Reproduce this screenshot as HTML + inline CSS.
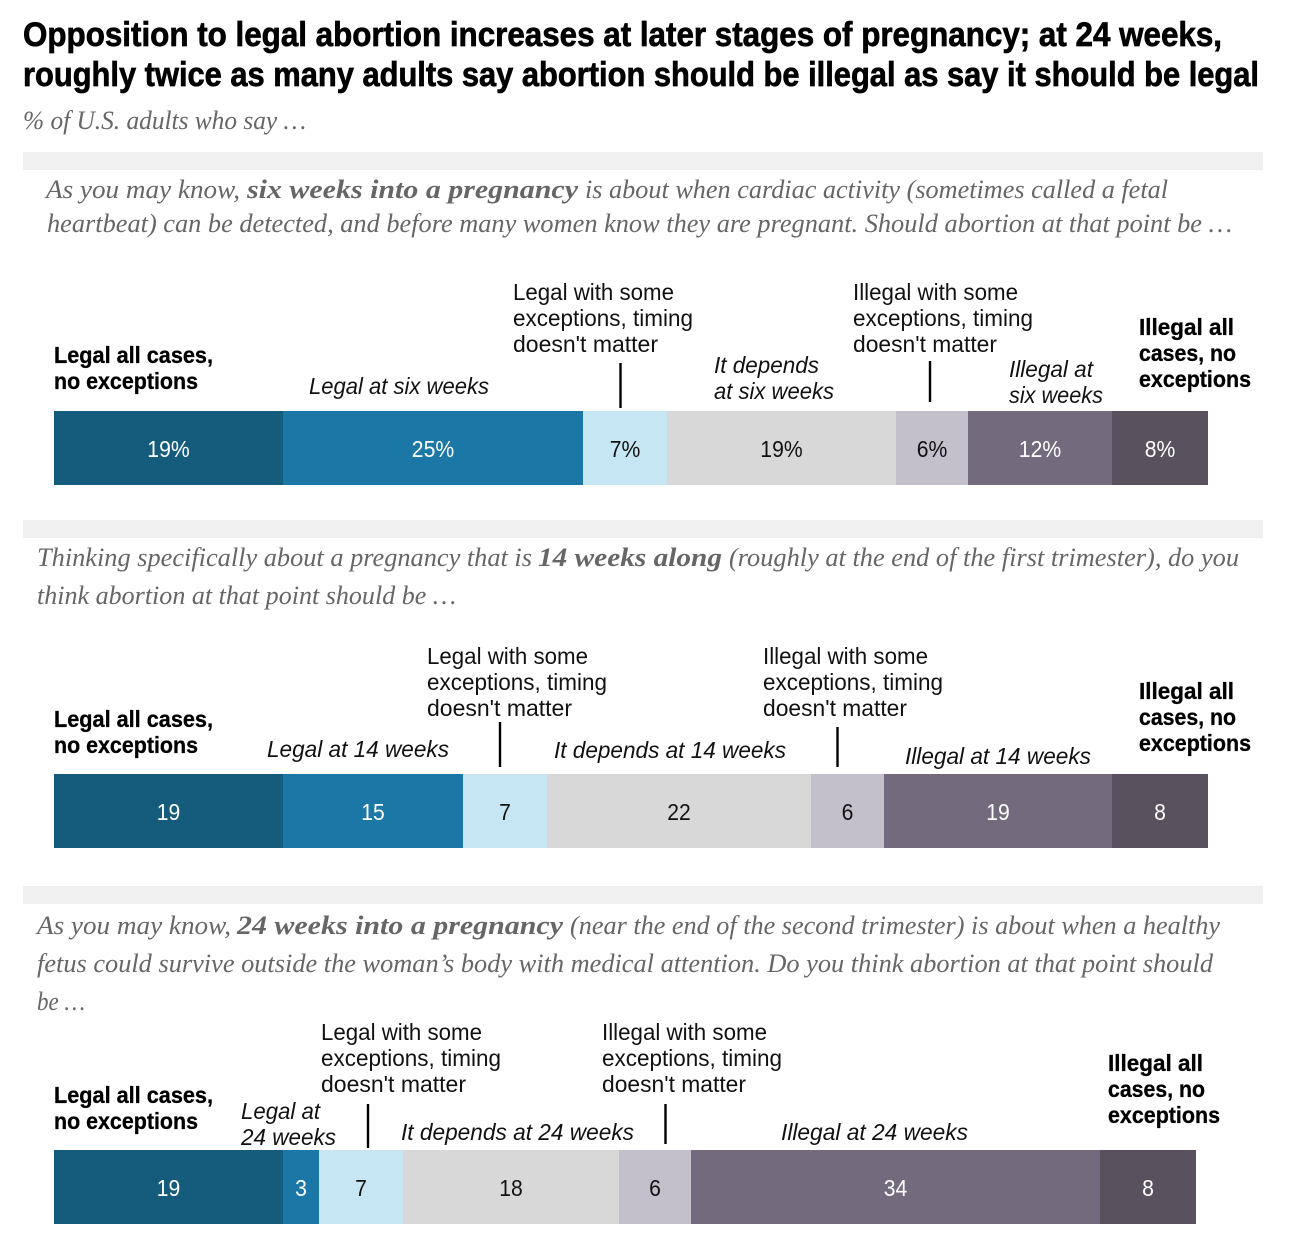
<!DOCTYPE html>
<html lang="en">
<head>
<meta charset="utf-8">
<title>Opposition to legal abortion by stage of pregnancy</title>
<style>
html,body{margin:0;padding:0;background:#fff;width:1303px;height:1235px;overflow:hidden}
svg{display:block}
.title{font:bold 34px "Liberation Sans",sans-serif;fill:#000;stroke:#000;stroke-width:.7px}
.sub{font:italic 26px "Liberation Serif",serif;fill:#666}
.q{font:italic 26px "Liberation Serif",serif;fill:#666}
.qb{font:italic bold 26px "Liberation Serif",serif;fill:#666}
.l{font:23px "Liberation Sans",sans-serif;fill:#111}
.li{font:italic 23px "Liberation Sans",sans-serif;fill:#111}
.lb{font:bold 23px "Liberation Sans",sans-serif;fill:#000;stroke:#000;stroke-width:.3px}
.v{font:23px "Liberation Sans",sans-serif;text-anchor:middle}
</style>
</head>
<body>
<svg id="chart" xmlns="http://www.w3.org/2000/svg" width="1303" height="1235" viewBox="0 0 1303 1235">
<text class="title" x="23" y="46" textLength="1199" lengthAdjust="spacingAndGlyphs">Opposition to legal abortion increases at later stages of pregnancy; at 24 weeks,</text>
<text class="title" x="23" y="86" textLength="1236" lengthAdjust="spacingAndGlyphs">roughly twice as many adults say abortion should be illegal as say it should be legal</text>
<text class="sub" x="23" y="129" textLength="283" lengthAdjust="spacingAndGlyphs">% of U.S. adults who say …</text>

<rect x="23" y="152" width="1240" height="18" fill="#f0f0f0"/>
<rect x="23" y="520" width="1240" height="18" fill="#f0f0f0"/>
<rect x="23" y="886" width="1240" height="18" fill="#f0f0f0"/>

<!-- Question 1 -->
<g>
<text class="q" x="46" y="198" textLength="194" lengthAdjust="spacingAndGlyphs">As you may know,</text>
<text class="qb" x="247" y="198" textLength="331" lengthAdjust="spacingAndGlyphs">six weeks into a pregnancy</text>
<text class="q" x="585" y="198" textLength="583" lengthAdjust="spacingAndGlyphs">is about when cardiac activity (sometimes called a fetal</text>
<text class="q" x="47" y="232" textLength="1185" lengthAdjust="spacingAndGlyphs">heartbeat) can be detected, and before many women know they are pregnant. Should abortion at that point be …</text>
</g>
<!-- Question 2 -->
<g>
<text class="q" x="37" y="566" textLength="495" lengthAdjust="spacingAndGlyphs">Thinking specifically about a pregnancy that is</text>
<text class="qb" x="538" y="566" textLength="184" lengthAdjust="spacingAndGlyphs">14 weeks along</text>
<text class="q" x="729" y="566" textLength="510" lengthAdjust="spacingAndGlyphs">(roughly at the end of the first trimester), do you</text>
<text class="q" x="37" y="604" textLength="419" lengthAdjust="spacingAndGlyphs">think abortion at that point should be …</text>
</g>
<!-- Question 3 -->
<g>
<text class="q" x="37" y="934" textLength="194" lengthAdjust="spacingAndGlyphs">As you may know,</text>
<text class="qb" x="237" y="934" textLength="326" lengthAdjust="spacingAndGlyphs">24 weeks into a pregnancy</text>
<text class="q" x="570" y="934" textLength="650" lengthAdjust="spacingAndGlyphs">(near the end of the second trimester) is about when a healthy</text>
<text class="q" x="37" y="972" textLength="1176" lengthAdjust="spacingAndGlyphs">fetus could survive outside the woman’s body with medical attention. Do you think abortion at that point should</text>
<text class="q" x="37" y="1010" textLength="48" lengthAdjust="spacingAndGlyphs">be …</text>
</g>

<!-- Panel 1 annotations -->
<g>
<text class="lb" x="54" y="363" textLength="159" lengthAdjust="spacingAndGlyphs">Legal all cases,</text>
<text class="lb" x="54" y="389" textLength="144" lengthAdjust="spacingAndGlyphs">no exceptions</text>
<text class="li" x="309" y="394" textLength="180" lengthAdjust="spacingAndGlyphs">Legal at six weeks</text>
<text class="l" x="513" y="300" textLength="161" lengthAdjust="spacingAndGlyphs">Legal with some</text>
<text class="l" x="513" y="326" textLength="180" lengthAdjust="spacingAndGlyphs">exceptions, timing</text>
<text class="l" x="513" y="352" textLength="145" lengthAdjust="spacingAndGlyphs">doesn't matter</text>
<line x1="620.5" x2="620.5" y1="363" y2="408" stroke="#000" stroke-width="2.4"/>
<text class="li" x="714" y="373" textLength="105" lengthAdjust="spacingAndGlyphs">It depends</text>
<text class="li" x="714" y="399" textLength="120" lengthAdjust="spacingAndGlyphs">at six weeks</text>
<text class="l" x="853" y="300" textLength="165" lengthAdjust="spacingAndGlyphs">Illegal with some</text>
<text class="l" x="853" y="326" textLength="180" lengthAdjust="spacingAndGlyphs">exceptions, timing</text>
<text class="l" x="853" y="352" textLength="144" lengthAdjust="spacingAndGlyphs">doesn't matter</text>
<line x1="930" x2="930" y1="361" y2="402" stroke="#000" stroke-width="2.4"/>
<text class="li" x="1009" y="377" textLength="84" lengthAdjust="spacingAndGlyphs">Illegal at</text>
<text class="li" x="1009" y="403" textLength="94" lengthAdjust="spacingAndGlyphs">six weeks</text>
<text class="lb" x="1139" y="335" textLength="95" lengthAdjust="spacingAndGlyphs">Illegal all</text>
<text class="lb" x="1139" y="361" textLength="97" lengthAdjust="spacingAndGlyphs">cases, no</text>
<text class="lb" x="1139" y="387" textLength="112" lengthAdjust="spacingAndGlyphs">exceptions</text>
</g>

<!-- Panel 2 annotations -->
<g>
<text class="lb" x="54" y="727" textLength="159" lengthAdjust="spacingAndGlyphs">Legal all cases,</text>
<text class="lb" x="54" y="753" textLength="144" lengthAdjust="spacingAndGlyphs">no exceptions</text>
<text class="li" x="267" y="757" textLength="182" lengthAdjust="spacingAndGlyphs">Legal at 14 weeks</text>
<text class="l" x="427" y="664" textLength="161" lengthAdjust="spacingAndGlyphs">Legal with some</text>
<text class="l" x="427" y="690" textLength="180" lengthAdjust="spacingAndGlyphs">exceptions, timing</text>
<text class="l" x="427" y="716" textLength="145" lengthAdjust="spacingAndGlyphs">doesn't matter</text>
<line x1="500" x2="500" y1="722" y2="767" stroke="#000" stroke-width="2.4"/>
<text class="li" x="554" y="758" textLength="232" lengthAdjust="spacingAndGlyphs">It depends at 14 weeks</text>
<text class="l" x="763" y="664" textLength="165" lengthAdjust="spacingAndGlyphs">Illegal with some</text>
<text class="l" x="763" y="690" textLength="180" lengthAdjust="spacingAndGlyphs">exceptions, timing</text>
<text class="l" x="763" y="716" textLength="144" lengthAdjust="spacingAndGlyphs">doesn't matter</text>
<line x1="837.5" x2="837.5" y1="727" y2="767" stroke="#000" stroke-width="2.4"/>
<text class="li" x="905" y="764" textLength="186" lengthAdjust="spacingAndGlyphs">Illegal at 14 weeks</text>
<text class="lb" x="1139" y="699" textLength="95" lengthAdjust="spacingAndGlyphs">Illegal all</text>
<text class="lb" x="1139" y="725" textLength="97" lengthAdjust="spacingAndGlyphs">cases, no</text>
<text class="lb" x="1139" y="751" textLength="112" lengthAdjust="spacingAndGlyphs">exceptions</text>
</g>

<!-- Panel 3 annotations -->
<g>
<text class="lb" x="54" y="1103" textLength="159" lengthAdjust="spacingAndGlyphs">Legal all cases,</text>
<text class="lb" x="54" y="1129" textLength="144" lengthAdjust="spacingAndGlyphs">no exceptions</text>
<text class="li" x="241" y="1119" textLength="79" lengthAdjust="spacingAndGlyphs">Legal at</text>
<text class="li" x="241" y="1145" textLength="95" lengthAdjust="spacingAndGlyphs">24 weeks</text>
<text class="l" x="321" y="1040" textLength="161" lengthAdjust="spacingAndGlyphs">Legal with some</text>
<text class="l" x="321" y="1066" textLength="180" lengthAdjust="spacingAndGlyphs">exceptions, timing</text>
<text class="l" x="321" y="1092" textLength="145" lengthAdjust="spacingAndGlyphs">doesn't matter</text>
<line x1="368" x2="368" y1="1104" y2="1148" stroke="#000" stroke-width="2.4"/>
<text class="li" x="401" y="1140" textLength="233" lengthAdjust="spacingAndGlyphs">It depends at 24 weeks</text>
<text class="l" x="602" y="1040" textLength="165" lengthAdjust="spacingAndGlyphs">Illegal with some</text>
<text class="l" x="602" y="1066" textLength="180" lengthAdjust="spacingAndGlyphs">exceptions, timing</text>
<text class="l" x="602" y="1092" textLength="144" lengthAdjust="spacingAndGlyphs">doesn't matter</text>
<line x1="665.5" x2="665.5" y1="1104" y2="1144" stroke="#000" stroke-width="2.4"/>
<text class="li" x="781" y="1140" textLength="187" lengthAdjust="spacingAndGlyphs">Illegal at 24 weeks</text>
<text class="lb" x="1108" y="1071" textLength="95" lengthAdjust="spacingAndGlyphs">Illegal all</text>
<text class="lb" x="1108" y="1097" textLength="97" lengthAdjust="spacingAndGlyphs">cases, no</text>
<text class="lb" x="1108" y="1123" textLength="112" lengthAdjust="spacingAndGlyphs">exceptions</text>
</g>
<g id="bars"></g>
</svg>
<script>
const categories = ['legal-all-cases', 'legal-at-stage', 'legal-with-exceptions', 'it-depends', 'illegal-with-exceptions', 'illegal-at-stage', 'illegal-all-cases'];
const panels = ['six-weeks', '14-weeks', '24-weeks'];
const sixWeeks = [19, 25, 7, 19, 6, 12, 8];
const fourteenWeeks = [19, 15, 7, 22, 6, 19, 8];
const twentyFourWeeks = [19, 3, 7, 18, 6, 34, 8];
const seriesColors = ['#155c7c', '#1b78a6', '#c6e6f3', '#d8d8d8', '#c3c0cb', '#736a7d', '#59515e'];
const labelColors = ['#fff', '#fff', '#111', '#111', '#111', '#fff', '#fff'];

const NS = 'http://www.w3.org/2000/svg';
const barsGroup = document.getElementById('bars');
function xScale(v) { return Math.round(54.2 + v * 12.02); }
function yScale(panelIndex) { return [411, 774, 1150][panelIndex]; }
const barHeight = 74;

[sixWeeks, fourteenWeeks, twentyFourWeeks].forEach(function (values, p) {
  let cumulative = 0;
  values.forEach(function (value, i) {
    const x0 = xScale(cumulative);
    const x1 = xScale(cumulative + value);
    const rect = document.createElementNS(NS, 'rect');
    
    
    rect.setAttribute('x', x0);
    rect.setAttribute('y', yScale(p));
    rect.setAttribute('width', x1 - x0);
    rect.setAttribute('height', barHeight);
    rect.setAttribute('fill', seriesColors[i]);
    barsGroup.appendChild(rect);
    const text = document.createElementNS(NS, 'text');
    
    
    text.setAttribute('class', 'v');
    text.setAttribute('x', (x0 + x1) / 2);
    text.setAttribute('y', yScale(p) + 46);
    text.setAttribute('fill', labelColors[i]);
    text.textContent = value + (p === 0 ? '%' : '');
    barsGroup.appendChild(text);
    text.setAttribute('textLength', (text.getComputedTextLength() * 0.92).toFixed(1));
    text.setAttribute('lengthAdjust', 'spacingAndGlyphs');
    cumulative += value;
  });
});
</script>
</body>
</html>
